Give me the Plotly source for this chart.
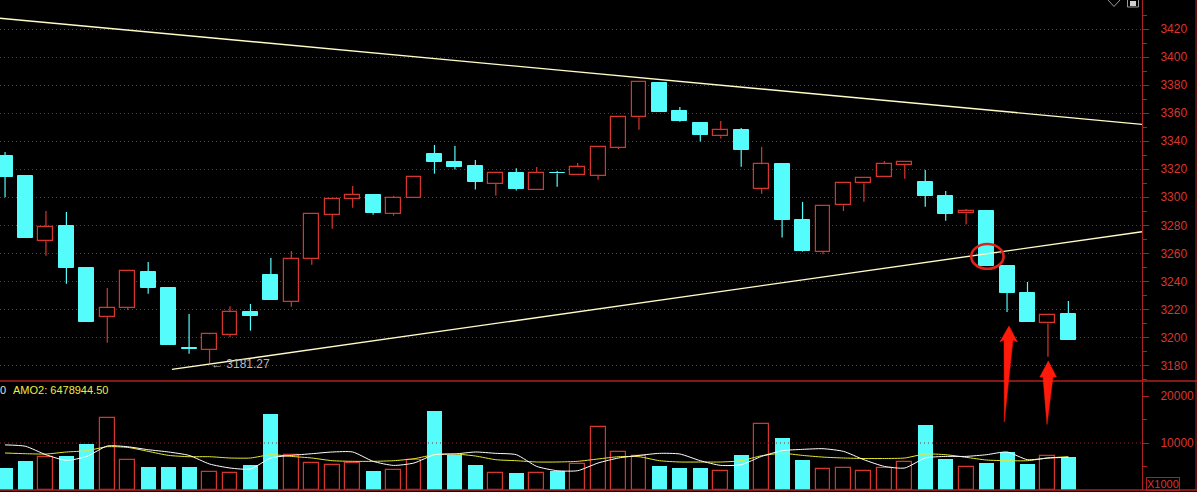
import plotly.graph_objects as go

# ---------------- data ----------------
opens = [3329.5, 3315.2, 3269.0, 3279.5, 3249.5, 3214.8, 3221.2, 3246.7, 3235.2, 3192.4,
         3191.2, 3201.9, 3218.1, 3244.5, 3225.5, 3255.7, 3287.6, 3299.0, 3301.7, 3288.3,
         3299.8, 3331.0, 3325.2, 3322.4, 3309.8, 3317.4, 3305.5, 3317.2, 3316.2, 3315.5,
         3335.5, 3357.1, 3381.4, 3361.4, 3352.9, 3343.6, 3348.1, 3306.2, 3323.8, 3283.8,
         3261.2, 3294.3, 3310.0, 3314.3, 3323.3, 3311.0, 3301.0, 3288.6, 3290.2, 3251.0,
         3231.7, 3210.0, 3216.7]
highs = [3332.4, 3315.5, 3290.2, 3289.5, 3249.8, 3235.2, 3247.4, 3253.8, 3236.0, 3216.7,
         3202.9, 3222.1, 3223.8, 3256.7, 3261.7, 3288.1, 3298.8, 3308.1, 3301.7, 3301.0,
         3314.3, 3337.4, 3336.7, 3326.7, 3317.9, 3320.7, 3321.7, 3318.8, 3324.5, 3335.7,
         3357.1, 3382.1, 3381.7, 3364.5, 3353.0, 3354.5, 3349.5, 3336.0, 3323.8, 3296.7,
         3293.6, 3310.0, 3313.6, 3326.0, 3325.0, 3319.5, 3304.5, 3291.7, 3290.2, 3251.0,
         3239.5, 3216.0, 3226.0]
lows = [3300.0, 3271.0, 3258.3, 3238.3, 3211.0, 3196.2, 3219.5, 3231.2, 3194.8, 3188.3,
        3181.27, 3200.0, 3204.8, 3226.9, 3221.9, 3251.9, 3277.6, 3292.6, 3287.6, 3286.9,
        3299.8, 3316.9, 3319.8, 3305.5, 3301.2, 3304.8, 3305.5, 3307.6, 3316.2, 3312.6,
        3334.5, 3348.3, 3361.0, 3354.0, 3339.8, 3341.9, 3321.9, 3302.6, 3271.3, 3261.2,
        3259.3, 3290.2, 3296.9, 3314.3, 3313.3, 3293.3, 3283.3, 3280.5, 3251.2, 3218.1,
        3211.2, 3186.2, 3198.3]
closes = [3314.8, 3271.2, 3278.6, 3249.8, 3211.2, 3221.0, 3247.4, 3235.5, 3194.8, 3192.0,
          3202.1, 3217.9, 3215.5, 3226.9, 3256.0, 3288.1, 3298.8, 3301.7, 3289.0, 3299.5,
          3314.3, 3325.5, 3321.7, 3311.2, 3317.1, 3306.2, 3317.4, 3317.0, 3321.4, 3335.7,
          3357.1, 3382.1, 3361.2, 3354.8, 3344.8, 3347.9, 3334.0, 3323.6, 3284.0, 3261.9,
          3293.6, 3310.0, 3313.6, 3323.6, 3325.0, 3301.2, 3288.3, 3290.2, 3251.2, 3231.9,
          3211.2, 3216.0, 3198.3]
volumes = [4745, 6234, 7085, 7149, 9851, 15383, 6383, 4957, 4957, 4957,
           3830, 3681, 5383, 16234, 7447, 5809, 5383, 5809, 4106, 4255,
           6383, 16872, 7362, 5383, 3617, 3681, 3617, 3957, 5532, 13468,
           8085, 7298, 5170, 4745, 4745, 4043, 7511, 14043, 11128, 6447,
           4468, 4681, 4043, 4681, 5957, 13894, 6660, 4894, 5809, 8149,
           5596, 7234, 7085]
vol_ma5 = [9600, 9300, 7500, 6300, 7150, 9360, 9200, 8570, 8085, 7362,
           5530, 4680, 4470, 6810, 7360, 7720, 8085, 8085, 6100, 5230,
           5745, 7511, 7660, 8085, 7798, 7511, 5021, 4106, 4106, 5745,
           6809, 7362, 7798, 7660, 6234, 5234, 5383, 7149, 8361, 8645,
           8787, 8220, 6447, 5021, 4681, 6809, 7149, 7149, 7511, 8085,
           6447, 6809, 6950]
vol_ma10 = [7872, 7723, 7650, 8085, 8361, 9213, 9064, 8219, 7362, 7085,
            7085, 6809, 6809, 7511, 7149, 6809, 6234, 6100, 6100, 6234,
            6660, 7511, 7660, 7234, 6447, 6234, 5957, 5957, 6100, 6600,
            7085, 7085, 6234, 5957, 5957, 5957, 6234, 7298, 7800, 7362,
            7000, 6809, 6700, 6700, 6809, 7660, 7511, 6950, 6375, 6234,
            6234, 6809, 7085]
upper_trend_x = [-0.247, 55.6]
upper_trend_y = [3427.9, 3352.1]
lower_trend_x = [8.16, 55.6]
lower_trend_y = [3177.1, 3275.4]
price_ticks = [3180, 3200, 3220, 3240, 3260, 3280, 3300, 3320, 3340, 3360, 3380, 3400, 3420]
price_minor = [3170, 3190, 3210, 3230, 3250, 3270, 3290, 3310, 3330, 3350, 3370, 3390, 3410, 3430]
vol_ticks = [10000, 20000]
vol_tick_text = ["10000", "20000"]
vol_minor = [5000, 15000]
low_label = "\u2190 3181.27"
amo_label = "AMO2: 6478944.50"

# ---------------- styling ----------------
RED = "#d8362c"
CYAN = "#54fcfc"
AXRED = "#b02020"
GRID = "#922626"
TREND = "#fffcc8"
BAR_W = 0.73
W, H = 1197, 492
PLOT_W, PLOT_H = 1142, 490


def px(x):
    return x / PLOT_W


def py(y):
    return (PLOT_H - y) / PLOT_H


idx = list(range(len(opens)))
up = [c >= o for o, c in zip(opens, closes)]

fig = go.Figure()

# wicks
for is_up, col in ((True, RED), (False, CYAN)):
    wx, wy = [], []
    for i in idx:
        if up[i] != is_up:
            continue
        top = max(opens[i], closes[i])
        bot = min(opens[i], closes[i])
        if highs[i] > top:
            wx += [i, i, None]
            wy += [highs[i], top, None]
        if lows[i] < bot:
            wx += [i, i, None]
            wy += [bot, lows[i], None]
    fig.add_trace(go.Scatter(x=wx, y=wy, mode="lines", line=dict(color=col, width=1.2),
                             hoverinfo="skip", showlegend=False, xaxis="x", yaxis="y"))

# bodies
ux = [i for i in idx if up[i]]
fig.add_trace(go.Bar(x=ux, base=[opens[i] for i in ux],
                     y=[max(closes[i] - opens[i], 0.3) for i in ux],
                     width=BAR_W, marker=dict(color="#000000", line=dict(color=RED, width=1.2)),
                     showlegend=False, xaxis="x", yaxis="y"))
dx = [i for i in idx if not up[i]]
fig.add_trace(go.Bar(x=dx, base=[closes[i] for i in dx],
                     y=[max(opens[i] - closes[i], 0.3) for i in dx],
                     width=BAR_W, marker=dict(color=CYAN, line=dict(color=CYAN, width=1)),
                     showlegend=False, xaxis="x", yaxis="y"))

# trend lines
fig.add_trace(go.Scatter(x=upper_trend_x, y=upper_trend_y, mode="lines",
                         line=dict(color=TREND, width=1.4), showlegend=False,
                         hoverinfo="skip", xaxis="x", yaxis="y"))
fig.add_trace(go.Scatter(x=lower_trend_x, y=lower_trend_y, mode="lines",
                         line=dict(color=TREND, width=1.4), showlegend=False,
                         hoverinfo="skip", xaxis="x", yaxis="y"))

# volume bars
fig.add_trace(go.Bar(x=ux, y=[volumes[i] for i in ux], width=BAR_W,
                     marker=dict(color="#000000", line=dict(color=RED, width=1.2)),
                     showlegend=False, xaxis="x2", yaxis="y2"))
fig.add_trace(go.Bar(x=dx, y=[volumes[i] for i in dx], width=BAR_W,
                     marker=dict(color=CYAN, line=dict(width=0)),
                     showlegend=False, xaxis="x2", yaxis="y2"))
fig.add_trace(go.Scatter(x=idx, y=vol_ma10, mode="lines",
                         line=dict(color="#e8e830", width=1, shape="spline", smoothing=0.6),
                         showlegend=False, hoverinfo="skip", xaxis="x2", yaxis="y2"))
fig.add_trace(go.Scatter(x=idx, y=vol_ma5, mode="lines",
                         line=dict(color="#ffffff", width=1, shape="spline", smoothing=0.6),
                         showlegend=False, hoverinfo="skip", xaxis="x2", yaxis="y2"))

split = py(381)
tickfont = dict(family="Liberation Sans, Arial", size=12, color=RED)
xr = [-0.247, 55.6]

fig.update_layout(
    width=W, height=H,
    margin=dict(l=0, r=W - PLOT_W, t=0, b=H - PLOT_H, pad=0, autoexpand=False),
    paper_bgcolor="#000000", plot_bgcolor="#000000",
    barmode="overlay", bargap=0, showlegend=False,
    xaxis=dict(domain=[0, 1], range=xr, anchor="y", showticklabels=False, showgrid=False,
               zeroline=False, showline=False, ticks=""),
    xaxis2=dict(domain=[0, 1], range=xr, anchor="y2", showticklabels=False, showgrid=False,
                zeroline=False, showline=False, ticks="", matches="x"),
    yaxis=dict(domain=[split, 1], range=[3168.8, 3440.9], side="right", anchor="x",
               tickmode="array", tickvals=price_ticks, ticks="outside", ticklen=6,
               tickcolor=AXRED, tickwidth=1, tickfont=tickfont, ticklabelstandoff=9,
               showline=True, linecolor=AXRED, linewidth=1, zeroline=False,
               showgrid=True, gridcolor=GRID, gridwidth=1, griddash="1px,3px",
               minor=dict(tickmode="array", tickvals=price_minor, ticks="outside",
                          ticklen=4, tickcolor=AXRED, showgrid=False)),
    yaxis2=dict(domain=[0, split], range=[0, 23191], side="right", anchor="x2",
                tickmode="array", tickvals=vol_ticks, ticktext=vol_tick_text,
                ticks="outside", ticklen=6,
                tickcolor=AXRED, tickwidth=1, tickfont=tickfont, ticklabelstandoff=9,
                showline=True, linecolor=AXRED, linewidth=1, zeroline=False, showgrid=False,
                minor=dict(tickmode="array", tickvals=vol_minor, ticks="outside",
                           ticklen=4, tickcolor=AXRED, showgrid=False)),
)

shapes = [
    # panel separator and bottom border
    dict(type="line", xref="paper", yref="paper", x0=0, x1=px(W), y0=split, y1=split,
         line=dict(color=AXRED, width=1.6)),
    dict(type="line", xref="paper", yref="paper", x0=0, x1=px(W), y0=py(490), y1=py(490),
         line=dict(color=AXRED, width=1.4)),
    # far-right window edge
    dict(type="line", xref="paper", yref="paper", x0=px(1196), x1=px(1196), y0=py(490), y1=py(0),
         line=dict(color=AXRED, width=1)),
    # volume 10000 grid line
    dict(type="line", xref="paper", yref="y2", x0=0, x1=1, y0=10000, y1=10000,
         line=dict(color=GRID, width=1, dash="1px,3px")),
    # red circle at the break
    dict(type="circle", xref="x", yref="y", x0=47.25, x1=48.83, y0=3249.0, y1=3266.6,
         line=dict(color="#e0221a", width=2.6)),
]


def arrow_path(pts):
    s = "M " + " L ".join(f"{px(x):.5f},{py(y):.5f}" for x, y in pts) + " Z"
    return s


arrow1 = [(1009, 326), (1017.5, 342), (1013, 340), (1004.3, 422), (1004, 340), (999.8, 342)]
arrow2 = [(1048.3, 361), (1056.5, 377), (1053, 377), (1047, 424.5), (1043, 377), (1039.8, 377)]
for a in (arrow1, arrow2):
    shapes.append(dict(type="path", xref="paper", yref="paper", path=arrow_path(a),
                       fillcolor="#ff1a0a", line=dict(color="#ff1a0a", width=0.5)))

# tiny top-right icons
shapes.append(dict(type="path", xref="paper", yref="paper",
                   path=arrow_path([(1108, 0), (1114, 6.5), (1120, 0), (1114, -6)]),
                   line=dict(color="#9a9a9a", width=1)))
shapes.append(dict(type="rect", xref="paper", yref="paper", x0=px(1127.5), x1=px(1138.5),
                   y0=py(7), y1=py(-2), line=dict(color="#9a9a9a", width=1),
                   fillcolor="#000000"))
shapes.append(dict(type="rect", xref="paper", yref="paper", x0=px(1130), x1=px(1136),
                   y0=py(6), y1=py(1), line=dict(width=0), fillcolor="#d0d0d0"))
fig.update_layout(shapes=shapes)

annotations = [
    dict(x=10.0, y=3181.27, xref="x", yref="y", text=low_label, showarrow=False,
         xanchor="left", yanchor="middle", xshift=-1,
         font=dict(family="Liberation Sans, Arial", size=12, color="#b8b8b8")),
    dict(x=px(-2), y=py(389.5), xref="paper", yref="paper", text="0", showarrow=False,
         xanchor="left", yanchor="middle",
         font=dict(family="Liberation Sans, Arial", size=11, color="#e0e0e0")),
    dict(x=px(11), y=py(389.5), xref="paper", yref="paper", text=amo_label, showarrow=False,
         xanchor="left", yanchor="middle",
         font=dict(family="Liberation Sans, Arial", size=11, color="#ecec40")),
    dict(x=px(1163), y=py(483.5), xref="paper", yref="paper", text="X1000", showarrow=False,
         xanchor="center", yanchor="middle", bordercolor=AXRED, borderwidth=1, borderpad=0,
         font=dict(family="Liberation Sans, Arial", size=11, color=RED)),
]
fig.update_layout(annotations=annotations)

fig.write_html("out.html", config={"displayModeBar": False},
               post_script="document.body.style.margin='0';document.body.style.overflow='hidden';")
